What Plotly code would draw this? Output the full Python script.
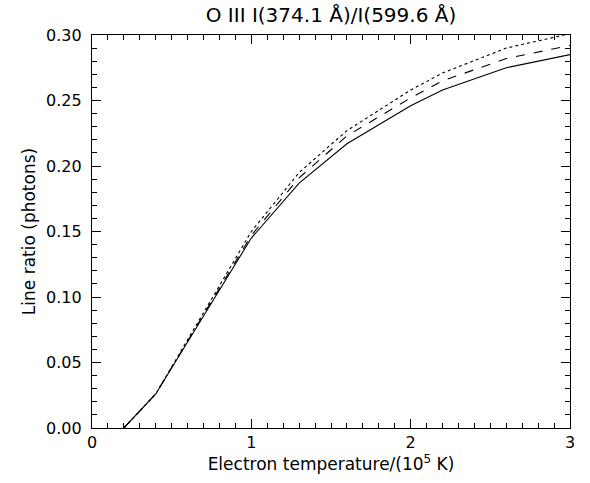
import plotly.graph_objects as go

temperature = [0.2, 0.4, 1.0, 1.3, 1.6, 2.0, 2.2, 2.6, 3.0]
ratio_solid = [0.0, 0.026, 0.145, 0.187, 0.217, 0.246, 0.258, 0.275, 0.285]
ratio_dashed = [0.0, 0.026, 0.147, 0.191, 0.223, 0.252, 0.265, 0.282, 0.292]
ratio_dotted = [0.0, 0.026, 0.150, 0.195, 0.227, 0.258, 0.271, 0.290, 0.301]

fig = go.Figure()
for ys, dash in [(ratio_solid, "solid"), (ratio_dashed, "dash"), (ratio_dotted, "dot")]:
    fig.add_trace(go.Scatter(x=temperature, y=ys, mode="lines",
                             line=dict(color="black", width=1.1, dash=dash),
                             showlegend=False))

FAM = "DejaVu Sans"
tick_font = dict(family=FAM, size=16, color="black")
title_font = dict(family=FAM, size=17, color="black")
axis_common = dict(showgrid=False, zeroline=False, showline=True, linecolor="black",
                   linewidth=1.3, mirror="ticks", ticks="inside", ticklen=9,
                   tickcolor="black", tickwidth=1, tickfont=tick_font)

fig.update_xaxes(range=[0, 3], tickvals=[0, 1, 2, 3], ticktext=["0", "1", "2", "3"],
                 minor=dict(dtick=0.1, ticklen=5, ticks="inside", tickcolor="black"),
                 title=dict(text="Electron temperature/(10<sup>5</sup> K)", font=title_font, standoff=2),
                 ticklabelstandoff=0,
                 **axis_common)
fig.update_yaxes(range=[0, 0.30], dtick=0.05, tickformat=".2f",
                 minor=dict(dtick=0.01, ticklen=5, ticks="inside", tickcolor="black"),
                 title=dict(text="Line ratio (photons)", font=title_font, standoff=6),
                 ticklabelstandoff=6,
                 **axis_common)

fig.update_layout(width=590, height=483,
                  margin=dict(l=92, r=20, t=35, b=55),
                  paper_bgcolor="white", plot_bgcolor="white",
                  title=dict(text="O III I(374.1 Å)/I(599.6 Å)",
                             font=dict(family=FAM, size=20, color="black"),
                             x=0.5, xanchor="center", xref="paper",
                             yref="container", y=1 - 15 / 483, yanchor="middle"),
                  font=tick_font)

fig.write_html("out.html")
